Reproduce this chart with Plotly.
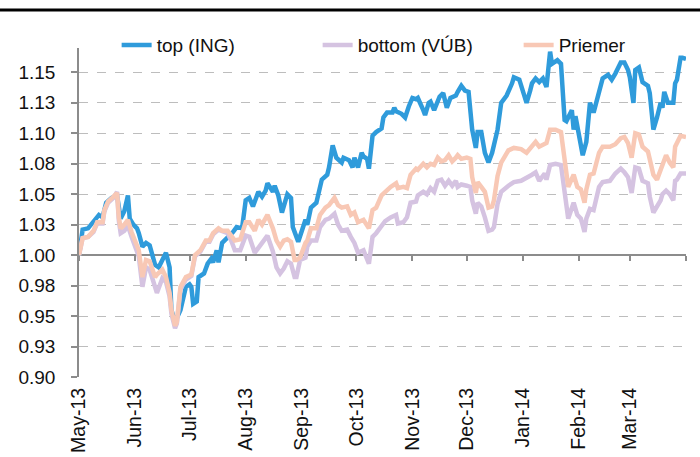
import pandas as pd
import plotly.graph_objects as go

# ---------------- data ----------------
START = "2013-05-01"  # day 0 of the series

# top (ING): day offset since 1 May 2013, index value
top_days = [0, 2, 5, 9, 11, 13, 15, 18, 21, 23, 25, 27, 28, 30, 32, 33, 35, 37, 39, 42,
            44, 46, 48, 50, 51, 53, 54, 56, 59, 61, 62, 63, 65, 66, 69, 71, 73, 74, 76, 77,
            79, 82, 85, 87, 90, 92, 94, 96, 99, 101, 103, 104, 107, 108, 110, 112, 114, 115, 117, 118,
            120, 121, 123, 125, 126, 128, 131, 132, 134, 137, 138, 140, 142, 145, 146, 149, 151, 152, 154, 156,
            157, 159, 160, 162, 164, 167, 168, 170, 173, 174, 175, 178, 180, 182, 184, 186, 187, 190, 191, 193,
            194, 196, 198, 199, 201, 203, 205, 208, 209, 211, 213, 215, 217, 219, 220, 222, 224, 226, 228, 229,
            231, 233, 236, 239, 240, 243, 245, 247, 249, 250, 252, 254, 256, 258, 260, 261, 264, 266, 268, 269,
            272, 273, 274, 276, 278, 280, 282, 284, 287, 289, 292, 294, 296, 299, 301, 303, 304, 306, 307, 309,
            311, 314, 315, 317, 319, 321, 322, 323, 325, 328, 329, 330, 332, 333, 335]
top_vals = [1.000, 1.021, 1.022, 1.030, 1.033, 1.031, 1.043, 1.047, 1.049, 1.030, 1.036, 1.049, 1.030, 1.025, 1.022, 1.018, 1.007, 1.010, 1.008, 0.992,
            0.990, 0.996, 1.002, 0.990, 0.955, 0.945, 0.948, 0.955, 0.974, 0.976, 0.974, 0.960, 0.962, 0.982, 0.985, 0.993, 0.997, 0.994, 1.004, 0.994,
            1.010, 1.014, 1.019, 1.023, 1.022, 1.045, 1.047, 1.040, 1.052, 1.048, 1.053, 1.059, 1.052, 1.057, 1.049, 1.035, 1.047, 1.050, 1.047, 1.023,
            1.015, 1.011, 1.020, 1.029, 1.025, 1.039, 1.043, 1.051, 1.062, 1.066, 1.072, 1.090, 1.080, 1.076, 1.080, 1.078, 1.072, 1.080, 1.072, 1.084,
            1.081, 1.079, 1.071, 1.098, 1.101, 1.104, 1.113, 1.117, 1.117, 1.121, 1.118, 1.116, 1.113, 1.122, 1.129, 1.128, 1.129, 1.119, 1.115, 1.125,
            1.126, 1.119, 1.127, 1.130, 1.133, 1.121, 1.129, 1.131, 1.134, 1.139, 1.135, 1.134, 1.103, 1.088, 1.101, 1.101, 1.084, 1.076, 1.084, 1.092,
            1.103, 1.125, 1.131, 1.141, 1.146, 1.144, 1.135, 1.125, 1.135, 1.141, 1.145, 1.142, 1.145, 1.138, 1.167, 1.157, 1.160, 1.157, 1.111, 1.110,
            1.119, 1.103, 1.114, 1.097, 1.082, 1.093, 1.125, 1.117, 1.135, 1.145, 1.148, 1.144, 1.149, 1.158, 1.158, 1.152, 1.146, 1.125, 1.152, 1.154,
            1.142, 1.139, 1.133, 1.103, 1.113, 1.125, 1.121, 1.134, 1.125, 1.125, 1.141, 1.144, 1.162, 1.162, 1.161]

# bottom (VUB) and Priemer share observation days
avg_days = [0, 2, 5, 8, 10, 13, 14, 16, 19, 21, 22, 23, 25, 27, 29, 31, 33, 35, 37, 39,
            42, 43, 46, 48, 50, 51, 53, 54, 56, 59, 62, 64, 67, 70, 72, 74, 77, 79, 82, 84,
            86, 89, 92, 94, 97, 99, 101, 104, 107, 109, 111, 113, 115, 117, 119, 120, 122, 125, 126, 128,
            131, 133, 136, 138, 141, 143, 145, 148, 150, 152, 154, 157, 160, 162, 164, 167, 169, 172, 175, 176,
            179, 181, 183, 186, 187, 190, 192, 194, 196, 198, 200, 202, 204, 206, 208, 209, 211, 214, 216, 217,
            219, 220, 222, 224, 226, 228, 229, 231, 233, 237, 240, 244, 247, 250, 252, 254, 257, 258, 260, 263,
            266, 267, 269, 270, 273, 275, 277, 279, 280, 282, 284, 287, 289, 293, 296, 299, 301, 303, 305, 307,
            309, 311, 314, 315, 317, 319, 321, 322, 324, 326, 328, 329, 330, 332, 335]
priemer_vals = [1.000, 1.014, 1.015, 1.020, 1.027, 1.027, 1.037, 1.044, 1.048, 1.051, 1.031, 1.022, 1.025, 1.029, 1.019, 1.012, 1.004, 0.982, 0.996, 0.995,
                0.982, 0.984, 0.988, 0.982, 0.969, 0.955, 0.942, 0.945, 0.974, 0.982, 0.984, 1.000, 1.004, 1.012, 1.012, 1.018, 1.022, 1.020, 1.020, 1.016,
                1.012, 1.013, 1.027, 1.027, 1.020, 1.029, 1.025, 1.033, 1.022, 1.012, 1.007, 1.012, 1.013, 1.011, 0.996, 0.996, 0.998, 1.010, 1.012, 1.022,
                1.022, 1.033, 1.039, 1.041, 1.047, 1.041, 1.039, 1.040, 1.033, 1.035, 1.027, 1.029, 1.022, 1.037, 1.039, 1.049, 1.052, 1.056, 1.059, 1.055,
                1.056, 1.055, 1.066, 1.071, 1.070, 1.075, 1.072, 1.075, 1.074, 1.080, 1.077, 1.078, 1.082, 1.077, 1.080, 1.082, 1.079, 1.080, 1.079, 1.064,
                1.051, 1.060, 1.056, 1.052, 1.039, 1.040, 1.045, 1.065, 1.076, 1.086, 1.088, 1.087, 1.084, 1.089, 1.093, 1.089, 1.092, 1.092, 1.103, 1.103,
                1.101, 1.090, 1.062, 1.056, 1.066, 1.056, 1.054, 1.043, 1.054, 1.066, 1.067, 1.084, 1.089, 1.089, 1.091, 1.096, 1.097, 1.092, 1.080, 1.100,
                1.099, 1.089, 1.085, 1.078, 1.066, 1.062, 1.070, 1.076, 1.082, 1.076, 1.072, 1.089, 1.092, 1.098, 1.097]
bottom_vals = [1.000, 1.014, 1.015, 1.019, 1.026, 1.026, 1.036, 1.043, 1.047, 1.052, 1.028, 1.018, 1.020, 1.024, 1.015, 1.008, 0.999, 0.974, 0.990, 0.988,
               0.974, 0.969, 0.981, 0.978, 0.966, 0.952, 0.940, 0.944, 0.972, 0.980, 0.983, 0.999, 1.003, 1.011, 1.011, 1.017, 1.021, 1.020, 1.018, 1.012,
               1.004, 1.004, 1.016, 1.015, 1.002, 1.006, 1.010, 1.016, 1.003, 0.990, 0.985, 0.989, 0.995, 0.993, 0.982, 0.982, 0.996, 0.998, 1.007, 1.012,
               1.012, 1.023, 1.029, 1.030, 1.034, 1.025, 1.020, 1.021, 1.015, 1.010, 1.002, 1.004, 0.993, 1.015, 1.018, 1.025, 1.028, 1.031, 1.033, 1.026,
               1.027, 1.031, 1.043, 1.044, 1.049, 1.052, 1.050, 1.055, 1.052, 1.061, 1.062, 1.057, 1.061, 1.057, 1.061, 1.056, 1.058, 1.057, 1.056, 1.045,
               1.034, 1.043, 1.040, 1.031, 1.020, 1.021, 1.023, 1.042, 1.052, 1.057, 1.060, 1.061, 1.063, 1.066, 1.068, 1.061, 1.067, 1.062, 1.074, 1.075,
               1.074, 1.061, 1.037, 1.030, 1.043, 1.033, 1.030, 1.019, 1.030, 1.038, 1.037, 1.056, 1.060, 1.061, 1.067, 1.071, 1.068, 1.064, 1.051, 1.072,
               1.071, 1.061, 1.059, 1.048, 1.035, 1.040, 1.045, 1.050, 1.053, 1.050, 1.045, 1.061, 1.062, 1.067, 1.067]

series_names = ["top (ING)", "bottom (VÚB)", "Priemer"]
series_colors = ["#2F9BDB", "#D5C3E1", "#F8C8B5"]

month_ticks = ["2013-05-01", "2013-06-01", "2013-07-01", "2013-08-01", "2013-09-01", "2013-10-01",
               "2013-11-01", "2013-12-01", "2014-01-01", "2014-02-01", "2014-03-01"]
month_labels = ["May-13", "Jun-13", "Jul-13", "Aug-13", "Sep-13", "Oct-13",
                "Nov-13", "Dec-13", "Jan-14", "Feb-14", "Mar-14"]
x_end = "2014-04-01"

y_ticks = [0.900, 0.925, 0.950, 0.975, 1.000, 1.025, 1.050, 1.075, 1.100, 1.125, 1.150]
y_labels = ["0.90", "0.93", "0.95", "0.98", "1.00", "1.03", "1.05", "1.08", "1.10", "1.13", "1.15"]
y_min, y_max, y_cross = 0.90, 1.17, 1.00

# ---------------- figure ----------------
base = pd.Timestamp(START)
def to_dates(days):
    return base + pd.to_timedelta(days, unit="D")

FONT = "Liberation Sans, Arial, sans-serif"
fig = go.Figure()
for name, color, days, vals in [
    (series_names[0], series_colors[0], top_days, top_vals),
    (series_names[1], series_colors[1], avg_days, bottom_vals),
    (series_names[2], series_colors[2], avg_days, priemer_vals),
]:
    fig.add_trace(go.Scatter(x=to_dates(days), y=vals, name=name, mode="lines",
                             line=dict(color=color, width=4.5)))

# helper trace so the crossing axis (at 1.00) is rendered
fig.add_trace(go.Scatter(x=[to_dates([0])[0]], y=[y_cross], xaxis="x2", mode="lines",
                         showlegend=False, hoverinfo="skip", line=dict(width=0)))

axis_grey = "#8C8C8C"
fig.update_layout(
    width=700, height=457,
    margin=dict(l=79, r=14, t=48, b=80, autoexpand=False),
    paper_bgcolor="white", plot_bgcolor="white",
    font=dict(family=FONT, color="#111111"),
    showlegend=True,
    legend=dict(orientation="h", x=0.062, xanchor="left", y=1.009, yanchor="middle",
                font=dict(size=19, family=FONT), bgcolor="rgba(0,0,0,0)",
                entrywidth=156, entrywidthmode="pixels", tracegroupgap=0),
    xaxis=dict(type="date", range=[START, x_end], tickmode="array",
               tickvals=month_ticks, ticktext=month_labels, tickangle=-90,
               showgrid=False, showline=False, ticks="", zeroline=False,
               ticklabelstandoff=6,
               tickfont=dict(size=19.5, family=FONT)),
    xaxis2=dict(type="date", range=[START, x_end], overlaying="x", anchor="free",
                position=(y_cross - y_min) / (y_max - y_min),
                tickmode="array", tickvals=month_ticks + [x_end], showticklabels=False,
                showline=True, linecolor=axis_grey, linewidth=1.5,
                ticks="outside", ticklen=5, tickcolor=axis_grey, tickwidth=1.5,
                showgrid=False, zeroline=False, layer="below traces"),
    yaxis=dict(range=[y_min, y_max], tickmode="array", tickvals=y_ticks, ticktext=y_labels,
               showgrid=True, gridcolor="#BDBDBD", griddash="dash", gridwidth=1.3,
               showline=True, linecolor=axis_grey, linewidth=1.5,
               ticks="outside", ticklen=6, tickcolor=axis_grey, tickwidth=1.5,
               ticklabelstandoff=12, zeroline=False,
               tickfont=dict(size=19, family=FONT)),
    shapes=[dict(type="line", xref="paper", yref="paper", x0=-0.2, x1=1.2,
                 y0=1 + 38 / 329, y1=1 + 38 / 329, line=dict(color="black", width=3))],
)

fig.write_html("out.html", config={"displayModeBar": False},
               post_script="document.body.style.margin='0';")
